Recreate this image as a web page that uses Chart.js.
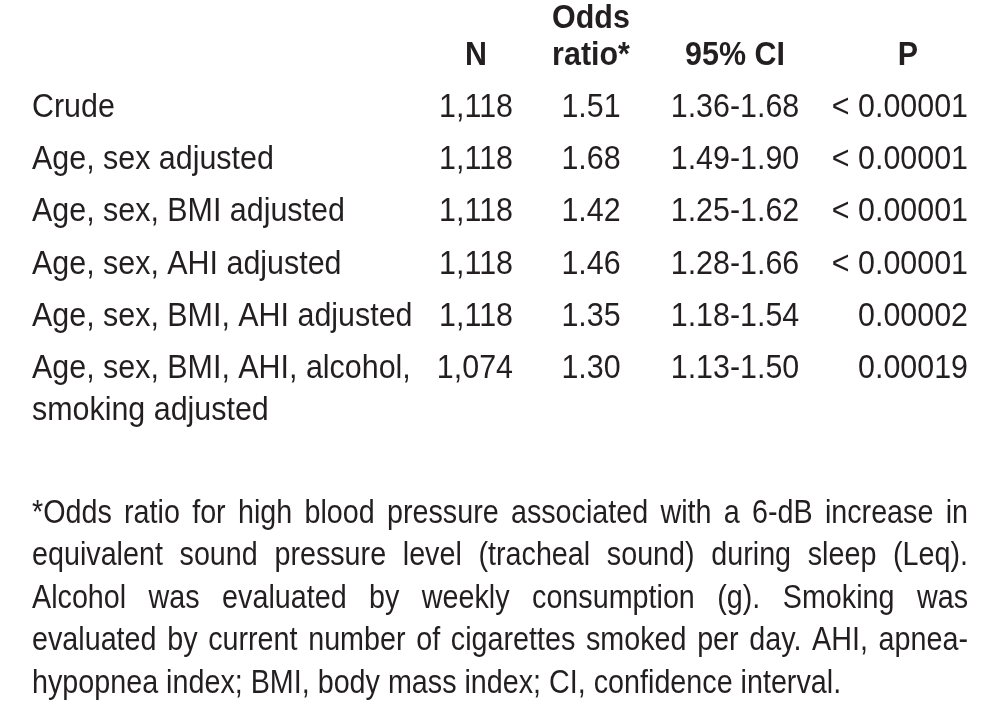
<!DOCTYPE html>
<html>
<head>
<meta charset="utf-8">
<title>Odds ratio table</title>
<script src="https://cdn.jsdelivr.net/npm/chart.js@4.4.1/dist/chart.umd.min.js"></script>
<style>
  html, body { margin: 0; padding: 0; background: #fff; }
  #tableChart { display: block; }
</style>
</head>
<body>
<canvas id="tableChart" width="986" height="712"></canvas>
<script>
// table data
const headers = ['', 'N', 'Odds\nratio*', '95% CI', 'P'];
const models = [
  'Crude',
  'Age, sex adjusted',
  'Age, sex, BMI adjusted',
  'Age, sex, AHI adjusted',
  'Age, sex, BMI, AHI adjusted',
  'Age, sex, BMI, AHI, alcohol,\nsmoking adjusted'
];
const nValues = ['1,118', '1,118', '1,118', '1,118', '1,118', '1,074'];
const oddsRatios = [1.51, 1.68, 1.42, 1.46, 1.35, 1.30];
const ciLow = [1.36, 1.49, 1.25, 1.28, 1.18, 1.13];
const ciHigh = [1.68, 1.90, 1.62, 1.66, 1.54, 1.50];
const pValues = ['< 0.00001', '< 0.00001', '< 0.00001', '< 0.00001', '0.00002', '0.00019'];
const footnote = [
  '*Odds ratio for high blood pressure associated with a 6-dB increase in',
  'equivalent sound pressure level (tracheal sound) during sleep (Leq).',
  'Alcohol was evaluated by weekly consumption (g). Smoking was',
  'evaluated by current number of cigarettes smoked per day. AHI, apnea-',
  'hypopnea index; BMI, body mass index; CI, confidence interval.'
];

const INK = '#231f20';
const SQUEEZE = 0.922;      // the original font is a narrow grotesque
const NOTE_SQUEEZE = 0.87;
const FONT = '"Liberation Sans", Arial, sans-serif';

// column anchors on the x scale, row positions on the y scale
const colX = { label: 32, n: 513, nHead: 476, or: 591, ci: 735, p: 968, pHead: 908, right: 968 };
const rowIdx = models.map((m, i) => i + 1);
const noteStart = 8.767, noteStep = 0.811;

const pts = (xs, ys) => ys.map((y, i) => ({ x: Array.isArray(xs) ? xs[i] : xs, y: y }));

const headerX = [colX.nHead, colX.or, colX.ci, colX.pHead];

const datasets = [
  { texts: headers.slice(1), align: 'center', bold: true,
    data: pts(headerX, headerX.map(() => 0)) },
  { texts: models, align: 'left', data: pts(colX.label, rowIdx) },
  { texts: nValues, align: 'right', data: pts(colX.n, rowIdx) },
  { texts: oddsRatios.map(v => v.toFixed(2)), align: 'center', data: pts(colX.or, rowIdx) },
  { texts: ciLow.map((v, i) => v.toFixed(2) + '-' + ciHigh[i].toFixed(2)), align: 'center', data: pts(colX.ci, rowIdx) },
  { texts: pValues, align: 'right', data: pts(colX.p, rowIdx) },
  { texts: footnote, align: 'justify', data: pts(colX.label, footnote.map((t, i) => noteStart + i * noteStep)) }
];
datasets.forEach(d => { d.pointRadius = 0; d.showLine = false; });

// draws every cell's text where the scales put its point
const cellText = {
  id: 'cellText',
  afterDatasetsDraw(chart) {
    const ctx = chart.ctx;
    const xs = chart.scales.x, ys = chart.scales.y;
    const lineGap = ys.getPixelForValue(1.8) - ys.getPixelForValue(1);
    ctx.save();
    ctx.fillStyle = INK;
    ctx.textBaseline = 'alphabetic';
    chart.data.datasets.forEach((ds, di) => {
      const meta = chart.getDatasetMeta(di);
      ctx.font = (ds.bold ? 'bold ' : '') + '33px ' + FONT;
      meta.data.forEach((el, i) => {
        const lines = ds.texts[i].split('\n');
        if (ds.align === 'justify') {
          const width = xs.getPixelForValue(colX.right) - el.x;
          const words = ds.texts[i].split(' ');
          const ws = words.map(w => ctx.measureText(w).width * NOTE_SQUEEZE);
          const sum = ws.reduce((a, b) => a + b, 0);
          const last = i === ds.texts.length - 1;
          const gap = last ? ctx.measureText(' ').width * NOTE_SQUEEZE : (width - sum) / (words.length - 1);
          let x = el.x;
          words.forEach((w, k) => {
            ctx.save();
            ctx.translate(x, el.y);
            ctx.scale(NOTE_SQUEEZE, 1);
            ctx.textAlign = 'left';
            ctx.fillText(w, 0, 0);
            ctx.restore();
            x += ws[k] + gap;
          });
          return;
        }
        // header cells stack upward, body cells wrap downward
        lines.forEach((ln, k) => {
          const y = ds.bold ? el.y - (lines.length - 1 - k) * 37 : el.y + k * lineGap;
          ctx.save();
          ctx.translate(el.x, y);
          ctx.scale(SQUEEZE, 1);
          ctx.textAlign = ds.align;
          ctx.fillText(ln, 0, 0);
          ctx.restore();
        });
      });
    });
    ctx.restore();
  }
};

const rowPx = 52.3;
const yMin = -64.5 / rowPx;

new Chart(document.getElementById('tableChart'), {
  type: 'scatter',
  data: { datasets: datasets },
  options: {
    responsive: false,
    animation: false,
    devicePixelRatio: 1,
    events: [],
    layout: { padding: 0 },
    plugins: { legend: { display: false }, tooltip: { enabled: false } },
    scales: {
      x: { type: 'linear', display: false, min: 0, max: 986 },
      y: { type: 'linear', display: false, reverse: true, min: yMin, max: yMin + 712 / rowPx }
    }
  },
  plugins: [cellText]
});
</script>
</body>
</html>
